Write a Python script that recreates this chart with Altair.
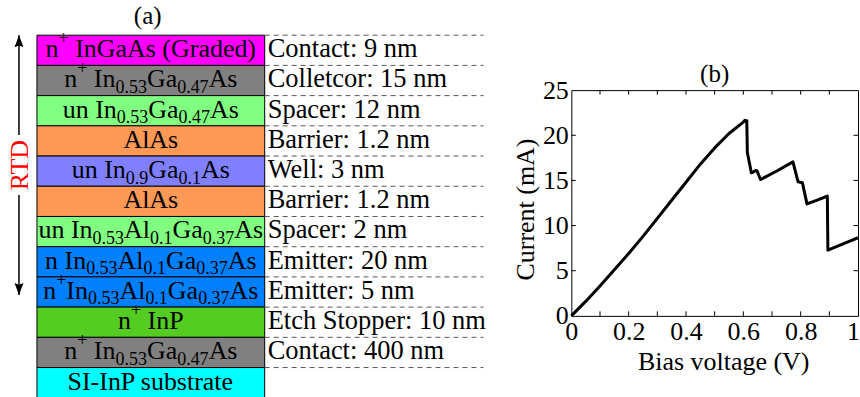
import altair as alt
import pandas as pd

FONT = "Liberation Serif"

# ---------------- (a) RTD epitaxial stack, top to bottom ----------------
# "^{..}" marks a superscript, "_{..}" a subscript
layer_labels = [
    "n^{+} InGaAs (Graded)",
    "n^{+} In_{0.53}Ga_{0.47}As",
    "un In_{0.53}Ga_{0.47}As",
    "AlAs",
    "un In_{0.9}Ga_{0.1}As",
    "AlAs",
    "un In_{0.53}Al_{0.1}Ga_{0.37}As",
    "n In_{0.53}Al_{0.1}Ga_{0.37}As",
    "n^{+}In_{0.53}Al_{0.1}Ga_{0.37}As",
    "n^{+} InP",
    "n^{+} In_{0.53}Ga_{0.47}As",
    "SI-InP substrate",
]
layer_notes = [
    "Contact: 9 nm",
    "Colletcor: 15 nm",
    "Spacer: 12 nm",
    "Barrier: 1.2 nm",
    "Well: 3 nm",
    "Barrier: 1.2 nm",
    "Spacer: 2 nm",
    "Emitter: 20 nm",
    "Emitter: 5 nm",
    "Etch Stopper: 10 nm",
    "Contact: 400 nm",
    "",
]
layer_colors = [
    "#ff00ff", "#808080", "#80ff80", "#ff9955", "#8080ff", "#ff9955",
    "#80ff80", "#0080ff", "#0080ff", "#55cc22", "#808080", "#00ffff",
]

# ---------------- (b) I-V characteristic ----------------
bias_v = [0.0, 0.05, 0.10, 0.15, 0.20, 0.25, 0.30, 0.35, 0.40, 0.45, 0.50,
          0.55, 0.60, 0.605, 0.612, 0.614, 0.628, 0.636, 0.643, 0.648, 0.660,
          0.72, 0.773, 0.791, 0.806, 0.822, 0.86, 0.893, 0.895, 0.95, 1.0]
current_ma = [0.0, 1.6, 3.3, 5.1, 6.9, 8.8, 10.8, 12.8, 14.8, 16.8, 18.6,
              20.2, 21.45, 21.65, 21.6, 18.1, 15.85, 15.95, 16.1, 16.05, 15.1,
              16.1, 17.05, 14.85, 14.75, 12.4, 12.85, 13.27, 7.27, 8.0, 8.65]

x_ticks = [0, 0.2, 0.4, 0.6, 0.8, 1.0]
x_minor = [0.1, 0.2, 0.3, 0.4, 0.5, 0.6, 0.7, 0.8, 0.9]
y_ticks = [0, 5, 10, 15, 20, 25]

# ---------------- layout of the stack drawing ----------------
W_L, N_ROWS = 490, 12
ROW_PX = 30.25
H_L = ROW_PX * N_ROWS
ARROW_X, BOX_L, BOX_R, NOTE_X, DASH_R = 19, 37, 265, 268, 484
MAIN_SIZE, SCRIPT_SIZE, NOTE_SIZE = 26, 18, 26.5

# Times advance widths (1/1000 em) for width-based centring of the labels
TIMES_W = {" ": 250, "(": 333, ")": 333, "+": 564, "-": 333, ".": 250,
           "A": 722, "G": 722, "I": 333, "P": 556, "S": 556, "a": 444,
           "b": 500, "d": 500, "e": 444, "l": 278, "n": 500, "r": 333,
           "s": 389, "t": 278, "u": 500}


def split_label(label):
    segs, buf, i = [], "", 0
    while i < len(label):
        c = label[i]
        if c in "^_" and label[i + 1:i + 2] == "{":
            if buf:
                segs.append((buf, "main"))
                buf = ""
            j = label.index("}", i)
            segs.append((label[i + 2:j], "sup" if c == "^" else "sub"))
            i = j + 1
        else:
            buf += c
            i += 1
    if buf:
        segs.append((buf, "main"))
    return segs


def seg_width(text, kind):
    size = MAIN_SIZE if kind == "main" else SCRIPT_SIZE
    return sum(TIMES_W.get(ch, 500) for ch in text) * size / 1000.0


seg_rows = []
centre = (BOX_L + BOX_R) / 2
for r, label in enumerate(layer_labels):
    segs = split_label(label)
    total = sum(seg_width(t, k) for t, k in segs)
    pos = centre - total / 2
    for t, k in segs:
        # leading blanks are collapsed by SVG, so advance past them here
        lead = len(t) - len(t.lstrip(" "))
        start = pos + seg_width(" " * lead, k)
        seg_rows.append({"mid": r + 0.5, "x": start, "text": t.strip(" "), "kind": k})
        pos += seg_width(t, k)
segs_df = pd.DataFrame(seg_rows)

layers_df = pd.DataFrame({
    "top": list(range(N_ROWS)),
    "bottom": [r + 1 for r in range(N_ROWS)],
    "mid": [r + 0.5 for r in range(N_ROWS)],
    "color": layer_colors,
    "note": layer_notes,
})
edges_df = pd.DataFrame({"edge": list(range(N_ROWS))})

xs_l = alt.Scale(domain=[0, W_L], nice=False, zero=False)
ys_l = alt.Scale(domain=[0, N_ROWS], reverse=True, nice=False, zero=False)

rects = alt.Chart(layers_df).mark_rect(stroke="black", strokeWidth=1).encode(
    x=alt.value(BOX_L), x2=alt.value(BOX_R),
    y=alt.Y("top:Q", scale=ys_l, axis=None), y2="bottom:Q",
    fill=alt.Fill("color:N", scale=None),
)
dashes = alt.Chart(edges_df).mark_rule(
    color="#555555", strokeWidth=1, strokeDash=[5, 4]
).encode(
    x=alt.value(BOX_R), x2=alt.value(DASH_R),
    y=alt.Y("edge:Q", scale=ys_l, axis=None),
)
notes = alt.Chart(layers_df).mark_text(
    align="left", baseline="alphabetic", dy=6.9, font=FONT,
    fontSize=NOTE_SIZE, color="black"
).encode(
    x=alt.value(NOTE_X), y=alt.Y("mid:Q", scale=ys_l, axis=None), text="note:N"
)


def seg_layer(kind, size, dy):
    return alt.Chart(segs_df).transform_filter(
        alt.datum.kind == kind
    ).mark_text(
        align="left", baseline="alphabetic", dy=dy, font=FONT,
        fontSize=size, color="black"
    ).encode(
        x=alt.X("x:Q", scale=xs_l, axis=None),
        y=alt.Y("mid:Q", scale=ys_l, axis=None),
        text="text:N",
    )


seg_main = seg_layer("main", MAIN_SIZE, 6.9)
seg_sub = seg_layer("sub", SCRIPT_SIZE, 12.4)
seg_sup = seg_layer("sup", SCRIPT_SIZE, -6.5)

# double-headed arrow spanning the RTD layers, broken by the label
arrow_df = pd.DataFrame({"y": [0.0, 5.29], "y2": [3.3, 8.6]})
arrow = alt.Chart(arrow_df).mark_rule(color="black", strokeWidth=1.5).encode(
    x=alt.value(ARROW_X), y=alt.Y("y:Q", scale=ys_l, axis=None), y2="y2:Q"
)
UP = "M0,-1L0.75,1L0,0.7L-0.75,1Z"
DOWN = "M0,1L0.75,-1L0,-0.7L-0.75,-1Z"
heads_df = pd.DataFrame({"y": [0.2, 8.4], "dir": ["up", "down"]})
heads = alt.Chart(heads_df).mark_point(
    filled=True, color="black", opacity=1, size=144, strokeWidth=0
).encode(
    x=alt.value(ARROW_X), y=alt.Y("y:Q", scale=ys_l, axis=None),
    shape=alt.Shape("dir:N", scale=alt.Scale(domain=["up", "down"], range=[UP, DOWN]),
                    legend=None),
)
rtd_df = pd.DataFrame({"y": [4.3], "label": ["RTD"]})
rtd = alt.Chart(rtd_df).mark_text(
    angle=270, baseline="middle", align="center", font=FONT,
    fontSize=26, color="#ff0000"
).encode(
    x=alt.value(ARROW_X + 1), y=alt.Y("y:Q", scale=ys_l, axis=None), text="label:N"
)

left = alt.layer(
    rects, dashes, notes, seg_main, seg_sub, seg_sup, arrow, heads, rtd
).properties(
    width=W_L, height=H_L,
    title=alt.TitleParams("(a)", anchor="start", dx=134, fontSize=25, offset=1),
    view=alt.ViewBackground(fill="white", stroke=None),
)

# ---------------- (b) current-voltage curve ----------------
iv_df = pd.DataFrame({"v": bias_v, "i": current_ma, "k": list(range(len(bias_v)))})

xs_r = alt.Scale(domain=[0, 1], nice=False, zero=False)
ys_r = alt.Scale(domain=[0, 25], nice=False, zero=False)
X_TITLE, Y_TITLE = "Bias voltage (V)", "Current (mA)"

# the last x label sits at the right edge of the figure
last_x = "datum.value >= 1"
curve = alt.Chart(iv_df).mark_line(
    color="black", strokeWidth=3, strokeJoin="round"
).encode(
    x=alt.X("v:Q", scale=xs_r, title=X_TITLE,
            axis=alt.Axis(
                values=x_ticks, format="~g", titleX=152,
                labelAlign={"condition": {"test": last_x, "value": "right"},
                            "value": "center"},
                labelOffset={"condition": {"test": last_x, "value": 1.5},
                             "value": 0},
            )),
    y=alt.Y("i:Q", scale=ys_r, title=Y_TITLE,
            axis=alt.Axis(values=y_ticks, titleY=119)),
    order="k:Q",
)

# inward tick marks on all four sides of the frame
TX, TY = 0.0157, 0.5
tick_rows = []
for v in x_minor:
    tick_rows.append({"v": v, "v2": v, "i": 0, "i2": TY})
    tick_rows.append({"v": v, "v2": v, "i": 25, "i2": 25 - TY})
for c in y_ticks[1:-1]:
    tick_rows.append({"v": 0, "v2": TX, "i": c, "i2": c})
    tick_rows.append({"v": 1, "v2": 1 - TX, "i": c, "i2": c})
ticks_df = pd.DataFrame(tick_rows)
ticks = alt.Chart(ticks_df).mark_rule(color="black", strokeWidth=1).encode(
    x=alt.X("v:Q", scale=xs_r, title=X_TITLE), x2="v2:Q",
    y=alt.Y("i:Q", scale=ys_r, title=Y_TITLE), y2="i2:Q",
)

right = alt.layer(curve, ticks).properties(
    width=287, height=226,
    title=alt.TitleParams("(b)", fontSize=25, offset=-10),
    view=alt.ViewBackground(fill="white", stroke="black", strokeWidth=1),
)

# empty block that lowers panel (b) relative to panel (a)
spacer = alt.Chart(pd.DataFrame({"a": [0]})).mark_point(opacity=0).properties(
    width=287, height=26,
    view=alt.ViewBackground(fill="white", stroke=None),
)

chart = alt.hconcat(
    left, alt.vconcat(spacer, right, spacing=0), spacing=22
).properties(
    padding={"left": 0, "top": 3, "right": 0, "bottom": 0}
).configure_axis(
    labelFont=FONT, titleFont=FONT, labelFontSize=26, titleFontSize=26,
    labelColor="black", titleColor="black", titleFontWeight="normal",
    tickSize=0, domain=False, grid=False, labelPadding=3, titlePadding=4,
    labelOverlap=False, labelFlush=False,
).configure_title(
    font=FONT, fontWeight="normal", color="black"
)

chart.save("out.html", embed_options={"renderer": "svg", "actions": False})
